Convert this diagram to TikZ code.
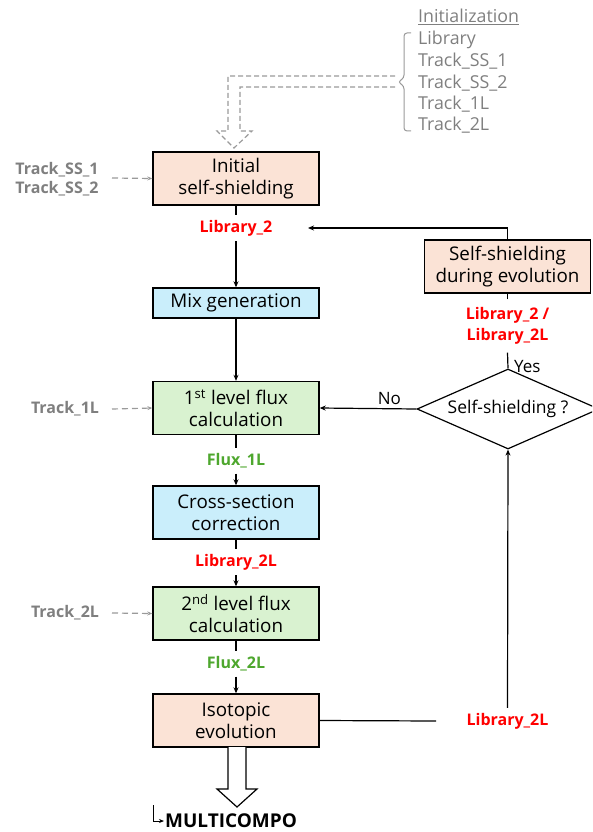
\documentclass[tikz,border=0pt]{standalone}
\usepackage{fontspec}
\setmainfont{Open Sans}
\usetikzlibrary{shapes.geometric,arrows.meta}
\definecolor{peach}{HTML}{FBE3D6}
\definecolor{skyblue}{HTML}{CAEEFB}
\definecolor{palegreen}{HTML}{D9F2D0}
\definecolor{txtgray}{HTML}{7F7F7F}
\definecolor{linegray}{HTML}{9A9A9A}
\definecolor{libred}{HTML}{FF0000}
\definecolor{fluxgreen}{HTML}{4EA72E}
\tikzset{
  stepbox/.style={draw=black, line width=1.4pt, minimum width=166pt, minimum height=53pt,
    align=center, inner sep=2pt, font=\fontsize{18.8}{21.5}\selectfont},
  redlbl/.style={text=libred, font=\bfseries\fontsize{16}{21}\selectfont, inner sep=5pt, align=center},
  greenlbl/.style={text=fluxgreen, font=\bfseries\fontsize{16}{21}\selectfont, inner sep=5pt},
  graylbl/.style={text=txtgray, font=\bfseries\fontsize{16}{19}\selectfont, inner sep=1pt, align=left},
  conn/.style={line width=1.2pt, draw=black},
  tip/.style={-{Stealth[length=6pt,width=5pt]}},
  feed/.style={draw=linegray, line width=1.2pt, dash pattern=on 6pt off 4pt, -{Stealth[length=5pt,width=4pt]}},
  listtxt/.style={text=txtgray, font=\fontsize{17.8}{21}\selectfont, anchor=west, inner sep=0pt}
}
\begin{document}
\begin{tikzpicture}[x=1pt,y=-1pt]
\useasboundingbox (0,0) rectangle (592,832);
\clip (0,0) rectangle (592,832);

% main chain of computation steps
\node[stepbox, fill=peach] (init) at (236,178.5) {Initial\\self-shielding};
\node[redlbl] (lib2) at (236,228) {Library\_2};
\node[stepbox, fill=skyblue, minimum height=30pt] (mix) at (236,303) {Mix generation};
\node[stepbox, fill=palegreen] (flux1) at (236,408) {1\textsuperscript{st} level flux\\calculation};
\node[greenlbl] (f1l) at (236,461) {Flux\_1L};
\node[stepbox, fill=skyblue] (xs) at (236,512.5) {Cross-section\\correction};
\node[redlbl] (lib2l) at (236,562) {Library\_2L};
\node[stepbox, fill=palegreen] (flux2) at (236,613.5) {2\textsuperscript{nd} level flux\\calculation};
\node[greenlbl] (f2l) at (236,664) {Flux\_2L};
\node[stepbox, fill=peach] (evol) at (236,720.5) {Isotopic\\evolution};

% feedback branch
\node[stepbox, fill=peach] (ssevol) at (507.5,266.5) {Self-shielding\\during evolution};
\node[redlbl, inner sep=8pt] (lib22l) at (507.5,326) {Library\_2 /\\Library\_2L};
\node[diamond, draw=black, line width=1.2pt, shape aspect=2.275, minimum width=182pt,
      minimum height=80pt, inner sep=0pt, font=\fontsize{17.5}{21}\selectfont] (test) at (508,409) {Self-shielding ?};
\node[redlbl] (lib2lr) at (507.5,721) {Library\_2L};

\coordinate (evolend) at (436,721);
\coordinate (backin) at (308,228);

\draw[conn] (init) -- (lib2);
\draw[conn,tip] (lib2) -- (mix);
\draw[conn,tip] (mix) -- (flux1);
\draw[conn] (flux1) -- (f1l);
\draw[conn,tip] (f1l) -- (xs);
\draw[conn] (xs) -- (lib2l);
\draw[conn,tip] (lib2l) -- (flux2);
\draw[conn] (flux2) -- (f2l);
\draw[conn,tip] (f2l) -- (evol);

\draw[conn] (evol.east) -- (evolend);
\draw[conn,tip] (lib2lr.north) -- (test.south);
\draw[conn,tip] (test.west) -- node[above, font=\fontsize{17}{20}\selectfont, inner sep=3pt, pos=0.28] {No} (flux1.east);
\draw[conn] (test.north) -- (lib22l.south);
\node[font=\fontsize{17}{20}\selectfont, anchor=south west, inner sep=1pt] (yes) at (513,374) {Yes};
\draw[conn] (lib22l.north) -- (ssevol.south);
\draw[conn,tip] (ssevol.north) |- (backin);

% geometry inputs
\node[graylbl] (tss) at (57,179) {Track\_SS\_1\\Track\_SS\_2};
\node[graylbl] (t1l) at (65,409) {Track\_1L};
\node[graylbl] (t2l) at (65,613) {Track\_2L};
\draw[feed] (112,178) -- (init.west);
\draw[feed] (112,409) -- (flux1.west);
\draw[feed] (112,613) -- (flux2.west);

% initialization data list
\node[listtxt] (inithead) at (418,17) {\underline{Initialization}};
\node[listtxt] (ilib) at (418,40) {Library};
\node[listtxt] (iss1) at (418,61.5) {Track\_SS\_1};
\node[listtxt] (iss2) at (418,83) {Track\_SS\_2};
\node[listtxt] (i1l) at (418,104) {Track\_1L};
\node[listtxt] (i2l) at (418,125.5) {Track\_2L};
\draw[linegray, line width=1pt, rounded corners=3pt]
  (411,33) -- (404,33) -- (404,78) -- (398,82) -- (404,86) -- (404,131) -- (411,131);

% dashed hollow arrow from the data list into the first step
\draw[linegray, line width=1.2pt, dash pattern=on 5pt off 3pt, line join=miter]
  (395,76) -- (228,76) -- (228,131) -- (217,131) -- (234,148) -- (252,131)
  -- (240,131) -- (240,87) -- (395,87);

% output towards MULTICOMPO
\draw[conn, line join=miter, fill=white]
  (228,747) -- (228,789) -- (217,789) -- (237,807) -- (257,789) -- (246,789) -- (246,747);
\node[font=\bfseries\fontsize{19}{22}\selectfont, anchor=west, inner sep=1pt] (mc) at (164,821) {MULTICOMPO};
\draw[line width=1pt, -{Stealth[length=5pt,width=4pt]}] (153,805) |- (mc.west);
\end{tikzpicture}
\end{document}
